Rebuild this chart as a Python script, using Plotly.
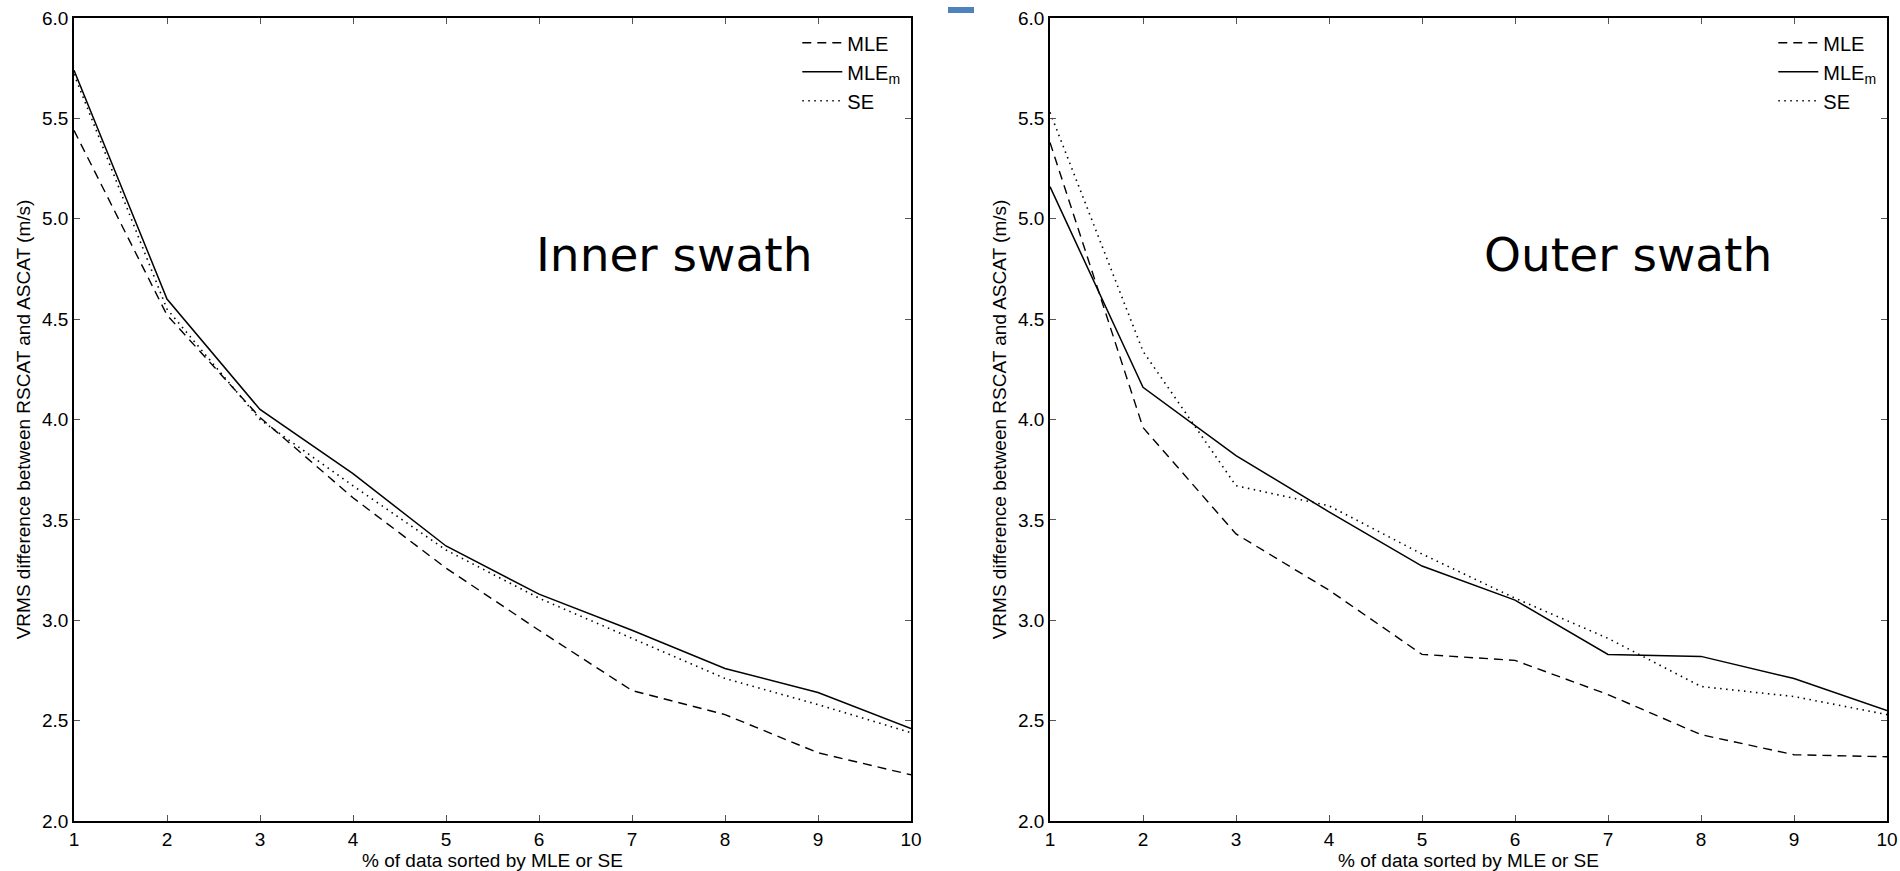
import plotly.graph_objects as go

# ---- data ----
pct = [1, 2, 3, 4, 5, 6, 7, 8, 9, 10]
inner_mle = [5.44, 4.52, 4.01, 3.61, 3.26, 2.95, 2.65, 2.53, 2.34, 2.23]
inner_mlem = [5.74, 4.60, 4.05, 3.73, 3.37, 3.13, 2.95, 2.76, 2.64, 2.46]
inner_se = [5.72, 4.55, 4.00, 3.67, 3.35, 3.11, 2.91, 2.71, 2.58, 2.44]
outer_mle = [5.38, 3.96, 3.43, 3.15, 2.83, 2.80, 2.63, 2.43, 2.33, 2.32]
outer_mlem = [5.16, 4.16, 3.82, 3.54, 3.27, 3.10, 2.83, 2.82, 2.71, 2.55]
outer_se = [5.53, 4.34, 3.67, 3.57, 3.33, 3.11, 2.91, 2.67, 2.62, 2.53]
series_names = ["MLE", "MLE<sub>m</sub>", "SE"]
y_ticks = [2.0, 2.5, 3.0, 3.5, 4.0, 4.5, 5.0, 5.5, 6.0]
panel_labels = ["Inner swath", "Outer swath"]
x_title = "% of data sorted by MLE or SE"
y_title = "VRMS difference between RSCAT and ASCAT (m/s)"

W, H = 1900, 871
FONT = "Liberation Sans, Arial, Helvetica, sans-serif"
styles = [dict(dash="9px,6px", width=1.4), dict(dash="solid", width=1.5), dict(dash="1.5px,4.5px", width=1.6)]

fig = go.Figure()
panels = [(inner_mle, inner_mlem, inner_se), (outer_mle, outer_mlem, outer_se)]
for p, data in enumerate(panels):
    xa = "x" if p == 0 else "x2"
    ya = "y" if p == 0 else "y2"
    lg = "legend" if p == 0 else "legend2"
    for name, vals, st in zip(series_names, data, styles):
        fig.add_trace(go.Scatter(x=pct, y=vals, mode="lines", name=name,
                                 line=dict(color="black", **st),
                                 xaxis=xa, yaxis=ya, legend=lg))

ytop, ybot = 18, 821
ydom = [1 - ybot / H, 1 - ytop / H]
xd1 = [74 / W, 911 / W]
xd2 = [1050 / W, 1887 / W]

def xaxis(dom, anchor):
    return dict(domain=dom, anchor=anchor, range=[1, 10], tickmode="array", tickvals=pct,
                ticktext=[str(v) for v in pct], ticks="inside", ticklen=6, tickwidth=1,
                tickcolor="#555", showline=True, linecolor="black", linewidth=1.6, mirror="ticks",
                showgrid=False, zeroline=False, tickfont=dict(family=FONT, size=19, color="black"),
                title=dict(text=x_title, font=dict(family=FONT, size=19, color="black"), standoff=2))

def yaxis(anchor):
    return dict(domain=ydom, anchor=anchor, range=[2, 6], tickmode="array", tickvals=y_ticks,
                ticktext=[f"{v:.1f}" for v in y_ticks], ticks="inside", ticklen=6, tickwidth=1,
                tickcolor="#555", showline=True, linecolor="black", linewidth=1.6, mirror="ticks",
                showgrid=False, zeroline=False, tickfont=dict(family=FONT, size=19, color="black"),
                title=dict(text=y_title, font=dict(family=FONT, size=19, color="black"), standoff=6))

legend_common = dict(xanchor="right", yanchor="top", bgcolor="rgba(0,0,0,0)", borderwidth=0,
                     font=dict(family=FONT, size=20, color="black"), tracegroupgap=0,
                     itemwidth=40)

fig.update_layout(
    width=W, height=H, autosize=False,
    margin=dict(l=0, r=0, t=0, b=0, autoexpand=False),
    paper_bgcolor="white", plot_bgcolor="white",
    xaxis=xaxis(xd1, "y"), yaxis=yaxis("x"),
    xaxis2=xaxis(xd2, "y2"), yaxis2=yaxis("x2"),
    legend=dict(x=xd1[1] - 0.003, y=ydom[1] - 0.006, **legend_common),
    legend2=dict(x=xd2[1] - 0.003, y=ydom[1] - 0.006, **legend_common),
    showlegend=True,
    annotations=[
        dict(x=7.46, y=4.82, xref="x", yref="y", text=panel_labels[0], showarrow=False,
             font=dict(family="DejaVu Sans", size=47, color="black"), xanchor="center", yanchor="middle"),
        dict(x=7.22, y=4.82, xref="x2", yref="y2", text=panel_labels[1], showarrow=False,
             font=dict(family="DejaVu Sans", size=47, color="black"), xanchor="center", yanchor="middle"),
    ],
    shapes=[dict(type="rect", xref="paper", yref="paper", x0=948 / W, x1=974 / W,
                 y0=1 - 13 / H, y1=1 - 7 / H, fillcolor="#4F81BD", line=dict(width=0))],
)

fig.write_html("out.html")
